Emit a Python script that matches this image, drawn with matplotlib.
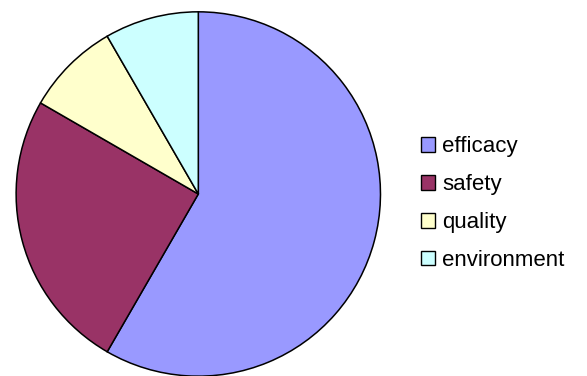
import matplotlib
matplotlib.use("Agg")
import matplotlib.pyplot as plt
from matplotlib.patches import Patch

plt.rcParams['font.family'] = ['Liberation Sans', 'DejaVu Sans']

labels = ['efficacy', 'safety', 'quality', 'environment']
values = [7, 3, 1, 1]
colors = ['#9999FF', '#993366', '#FFFFCC', '#CCFFFF']

W, H = 587, 376
fig = plt.figure(figsize=(W / 100, H / 100), dpi=100)

# pie centre ~ (198, 194) px, radius ~ 184 px
r = 184
cx, cy = 198.3, 194
ax = fig.add_axes([(cx - r) / W, (H - cy - r) / H, 2 * r / W, 2 * r / H])
ax.pie(values, colors=colors, startangle=90, counterclock=False,
       wedgeprops=dict(edgecolor='black', linewidth=1.1))
ax.set_xlim(-1.01, 1.01)
ax.set_ylim(-1.01, 1.01)
ax.set_aspect('equal')
ax.axis('off')

handles = [Patch(facecolor=c, edgecolor='black', linewidth=1.0) for c in colors]
fig.legend(handles, labels, loc='center left', bbox_to_anchor=(421 / W, 1 - 203.5 / H),
           frameon=False, fontsize=16, handlelength=0.65, handleheight=0.65,
           handletextpad=0.3, labelspacing=0.76, borderpad=0, borderaxespad=0)

fig.savefig('out.png', dpi=100)
